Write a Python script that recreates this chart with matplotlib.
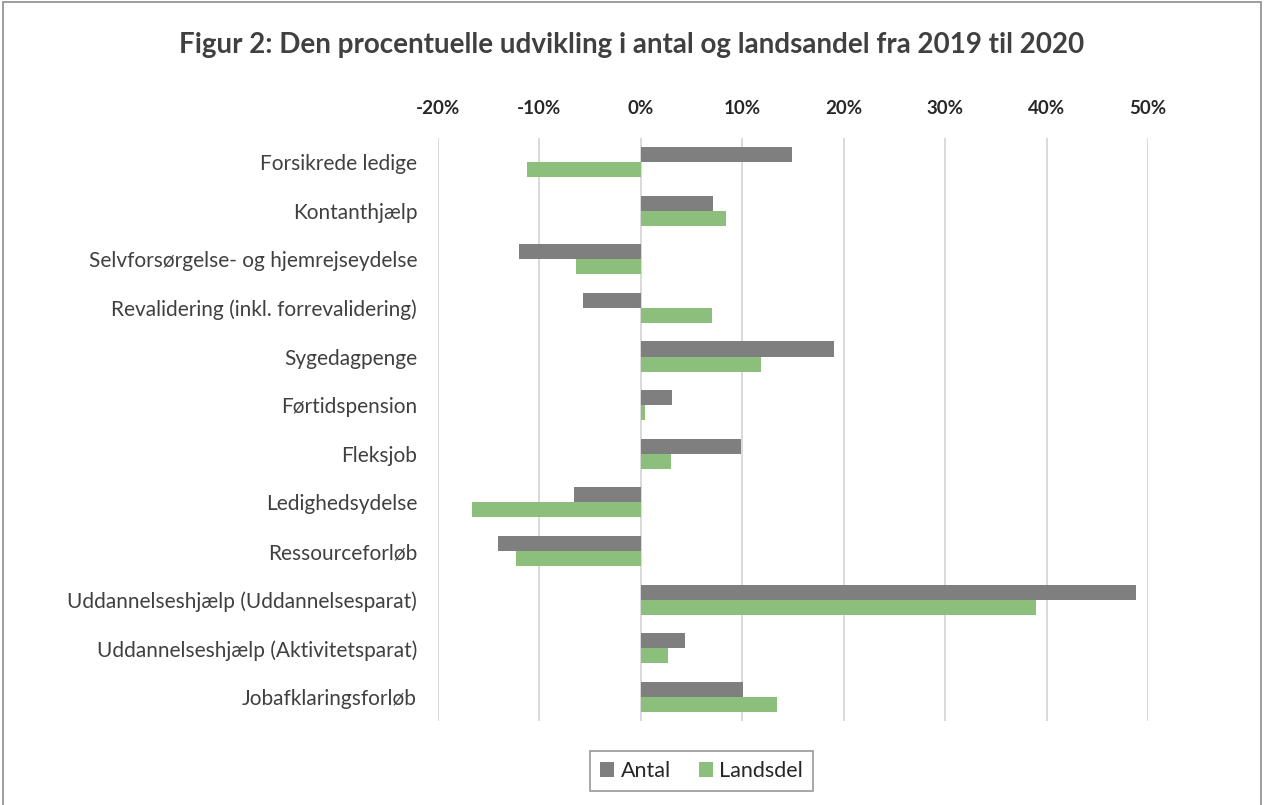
import matplotlib.pyplot as plt
import numpy as np
from matplotlib.ticker import FuncFormatter
from matplotlib.patches import Rectangle

categories = [
    "Forsikrede ledige",
    "Kontanthjælp",
    "Selvforsørgelse- og hjemrejseydelse",
    "Revalidering (inkl. forrevalidering)",
    "Sygedagpenge",
    "Førtidspension",
    "Fleksjob",
    "Ledighedsydelse",
    "Ressourceforløb",
    "Uddannelseshjælp (Uddannelsesparat)",
    "Uddannelseshjælp (Aktivitetsparat)",
    "Jobafklaringsforløb",
]
antal = [14.9, 7.1, -12.0, -5.7, 19.0, 3.1, 9.9, -6.6, -14.1, 48.8, 4.4, 10.1]
landsdel = [-11.2, 8.4, -6.4, 7.0, 11.8, 0.4, 3.0, -16.6, -12.3, 39.0, 2.7, 13.4]
xticks = [-20, -10, 0, 10, 20, 30, 40, 50]

title = "Figur 2: Den procentuelle udvikling i antal og landsandel fra 2019 til 2020"

plt.rcParams['font.family'] = ['Lato', 'DejaVu Sans']

fig = plt.figure(figsize=(12.64, 8.05), dpi=100)
ax = fig.add_axes([0.3465, 0.104, 0.9082 - 0.3465, 0.829 - 0.104])

y = np.arange(len(categories))
h = 0.31
ax.barh(y - h / 2, antal, height=h, color="#7f7f7f", label="Antal", zorder=3)
ax.barh(y + h / 2, landsdel, height=h, color="#8cbf7b", label="Landsdel", zorder=3)

ax.set_xlim(-20, 50)
ax.set_ylim(len(categories) - 0.5, -0.5)
ax.set_xticks(xticks)
ax.xaxis.set_major_formatter(FuncFormatter(lambda v, p: f"{v:.0f}%"))
ax.xaxis.tick_top()
ax.set_yticks(y)
ax.set_yticklabels(categories)
ax.tick_params(axis="x", length=0, pad=15, labelsize=13.5, labelcolor="#262626")
ax.tick_params(axis="y", length=0, pad=15, labelsize=15, labelcolor="#404040")
for lbl in ax.get_xticklabels():
    lbl.set_fontweight("bold")
ax.grid(axis="x", color="#d9d9d9", linewidth=1.4, zorder=0)
for s in ax.spines.values():
    s.set_visible(False)

fig.text(0.5, 1 - 45 / 805, title, ha="center", va="center",
         fontsize=20, fontweight="bold", color="#404040")

leg = fig.legend(loc="center", bbox_to_anchor=(0.555, 1 - 771 / 805), ncol=2,
                 frameon=True, fontsize=15.5, handlelength=0.65, handleheight=0.65,
                 handletextpad=0.3, columnspacing=1.3, borderpad=0.45,
                 fancybox=False)
leg.get_frame().set_edgecolor("#7f7f7f")
leg.get_frame().set_linewidth(1.2)
for t in leg.get_texts():
    t.set_color("#262626")

fig.patches.append(Rectangle((0.002, -0.01), 0.996, 1.007, transform=fig.transFigure,
                             fill=False, edgecolor="#8c8c8c", linewidth=1.2))

fig.savefig("out.png", dpi=100)
